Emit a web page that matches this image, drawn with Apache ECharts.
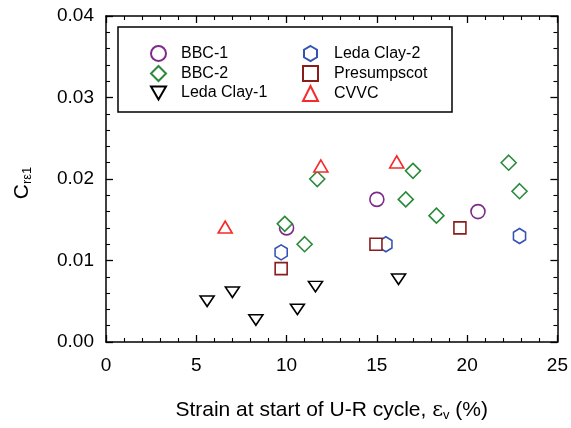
<!DOCTYPE html>
<html><head><meta charset="utf-8">
<script src="https://cdn.jsdelivr.net/npm/echarts@6/dist/echarts.min.js"></script>
<style>html,body{margin:0;padding:0;background:#fff}#c{width:571px;height:428px}</style>
</head><body><div id="c"></div>
<script>
var xTicks = [0, 5, 10, 15, 20, 25];
var yTicks = [0.00, 0.01, 0.02, 0.03, 0.04];

var bbc1X = [10.0, 15.0, 20.6];
var bbc1Y = [0.0140, 0.0175, 0.0160];
var bbc2X = [9.9, 11.0, 11.7, 16.6, 17.0, 18.3, 22.3, 22.9];
var bbc2Y = [0.0145, 0.0120, 0.0200, 0.0175, 0.0210, 0.0155, 0.0220, 0.0185];
var leda1X = [5.6, 7.0, 8.3, 10.6, 11.6, 16.2];
var leda1Y = [0.0050, 0.0061, 0.0027, 0.0040, 0.0068, 0.0077];
var leda2X = [9.7, 15.5, 22.9];
var leda2Y = [0.0110, 0.0120, 0.0130];
var presX = [9.7, 14.95, 19.6];
var presY = [0.0090, 0.0120, 0.0140];
var cvvcX = [6.6, 11.9, 16.1];
var cvvcY = [0.0141, 0.0216, 0.0221];

function zip(a, b) { return a.map(function (v, i) { return [v, b[i]]; }); }

var FONT = "'Liberation Sans', Arial, sans-serif";
var hexPath = 'path://M0,-10L8.66,-5L8.66,5L0,10L-8.66,5L-8.66,-5Z';
var triDown = 'path://M-5,-4.33L5,-4.33L0,4.33Z';

function ser(name, data, symbol, size, color) {
  return {
    name: name, type: 'scatter', data: data, symbol: symbol, symbolSize: size,
    symbolKeepAspect: true,
    itemStyle: { color: '#fff', borderColor: color, borderWidth: 1.6, opacity: 1 },
    emphasis: { disabled: true }, z: 5
  };
}

var chart = echarts.init(document.getElementById('c'), null, { renderer: 'canvas' });
var axisCommon = {
  min: 0, axisLine: { show: true, onZero: false, lineStyle: { color: '#000', width: 1.5 } },
  axisTick: { show: true, inside: true, length: 7, lineStyle: { color: '#000', width: 1.3 } },
  minorTick: { show: true, splitNumber: 5, length: 4, lineStyle: { color: '#000', width: 1.1 } },
  splitLine: { show: false }, minorSplitLine: { show: false }
};
function mk(extra) { return Object.assign({}, JSON.parse(JSON.stringify(axisCommon)), extra); }

chart.setOption({
  animation: false,
  backgroundColor: '#fff',
  grid: { left: 106, right: 12, top: 16, bottom: 86, containLabel: false },
  xAxis: [
    mk({ type: 'value', position: 'bottom', max: 25, interval: 5,
      axisLabel: { color: '#000', fontSize: 19, fontFamily: FONT, margin: 14,
        formatter: function (v) { return xTicks.indexOf(v) >= 0 ? String(v) : ''; } },
      name: '{t|Strain at start of U-R cycle, }{e|ε}{s|v}{t| (%)}', nameLocation: 'middle', nameGap: 57,
      nameTextStyle: { color: '#000', fontFamily: FONT, fontSize: 21,
        rich: { t: { fontSize: 21, fontFamily: FONT, color: '#000' },
                e: { fontSize: 21, fontFamily: "'DejaVu Serif', serif", color: '#000' },
                s: { fontSize: 13, fontFamily: FONT, color: '#000', padding: [10, 0, 0, 0] } } } }),
    mk({ type: 'value', position: 'top', max: 25, interval: 5, axisLabel: { show: false } })
  ],
  yAxis: [
    mk({ type: 'value', position: 'left', max: 0.04, interval: 0.01,
      axisLabel: { color: '#000', fontSize: 19, fontFamily: FONT, margin: 12,
        formatter: function (v) { return v.toFixed(2); } },
      name: '{c|C}{s|rε1}', nameLocation: 'middle', nameGap: 72, nameRotate: 90,
      nameTextStyle: { color: '#000', fontFamily: FONT, fontSize: 21, padding: [0, 8, 0, 0],
        rich: { c: { fontSize: 21, fontFamily: FONT, color: '#000' },
                s: { fontSize: 13, fontFamily: FONT, color: '#000', padding: [10, 0, 0, 0] } } } }),
    mk({ type: 'value', position: 'right', max: 0.04, interval: 0.01, axisLabel: { show: false } })
  ],
  graphic: [{
    type: 'rect', shape: { x: 118, y: 27, width: 334, height: 85 },
    style: { fill: '#fff', stroke: '#000', lineWidth: 1.5 }, z: 10
  }],
  legend: [{
    data: ['BBC-1', 'BBC-2', 'Leda Clay-1'], orient: 'vertical', left: 145, top: 40,
    itemWidth: 15, itemHeight: 15, itemGap: 3, symbolKeepAspect: true, z: 20,
    textStyle: { fontSize: 16, fontFamily: FONT, color: '#000', padding: [0, 0, 0, 10] }
  }, {
    data: ['Leda Clay-2', 'Presumpscot', 'CVVC'], orient: 'vertical', left: 297, top: 40,
    itemWidth: 15, itemHeight: 15, itemGap: 3, symbolKeepAspect: true, z: 20,
    textStyle: { fontSize: 16, fontFamily: FONT, color: '#000', padding: [0, 0, 0, 11] }
  }],
  series: [
    ser('BBC-1', zip(bbc1X, bbc1Y), 'circle', 14, '#7d2a8a'),
    ser('BBC-2', zip(bbc2X, bbc2Y), 'diamond', 15, '#2a8a3a'),
    ser('Leda Clay-1', zip(leda1X, leda1Y), triDown, [14, 12], '#000000'),
    ser('Leda Clay-2', zip(leda2X, leda2Y), hexPath, [14, 15], '#3452b4'),
    ser('Presumpscot', zip(presX, presY), 'rect', 12, '#8b1c1c'),
    ser('CVVC', zip(cvvcX, cvvcY), 'triangle', [14, 12], '#f52a2a')
  ]
});
</script></body></html>
